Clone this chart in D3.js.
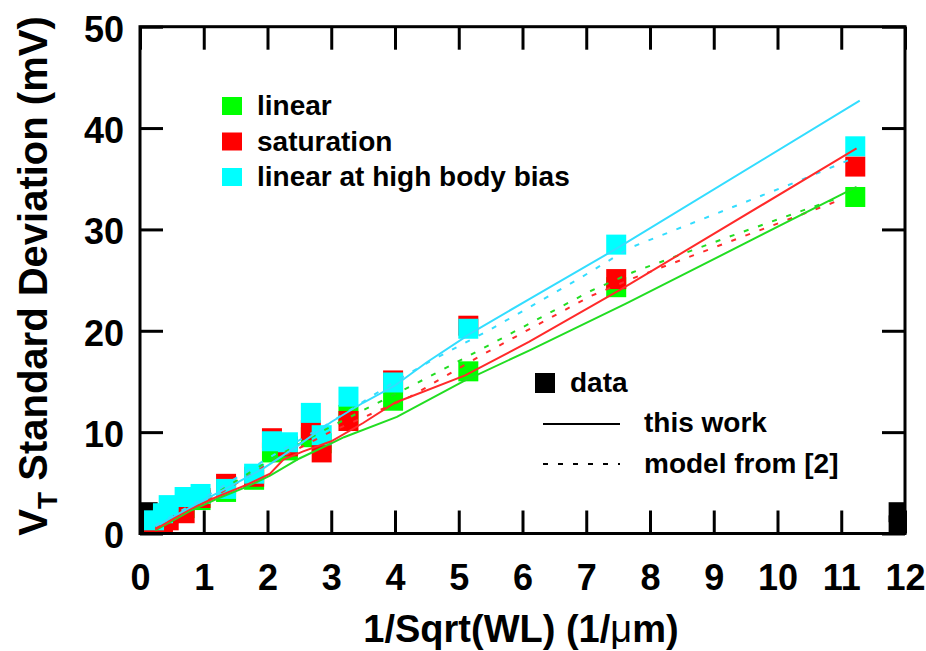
<!DOCTYPE html>
<html lang="en">
<head>
  <meta charset="UTF-8">
  <title>VT standard deviation vs 1/sqrt(WL)</title>
  <script src="https://d3js.org/d3.v7.min.js"></script>
  <style>
    body {
      margin: 0;
      background: white;
      font-family: "Liberation Sans", Arial, sans-serif;
    }
    .axis text {
      font-size: 36px;
      font-weight: bold;
      fill: black;
      font-family: "Liberation Sans", Arial, sans-serif;
    }
    .axis line {
      stroke: black;
      stroke-width: 3;
    }
    .legend text {
      font-size: 28px;
      font-weight: bold;
    }
  </style>
</head>
<body>
  <div id="chart"></div>

  <script>
    // measured devices (x = 1/sqrt(WL))
    const xVals = [0.22, 0.36, 0.45, 0.7, 0.95, 1.35, 1.79, 2.07, 2.32, 2.68, 2.85, 3.27, 3.97, 5.15, 7.47, 11.22];
    const linearVals = [0.8, 1.5, 2.0, 2.5, 3.3, 4.1, 5.3, 8.0, 8.2, 9.5, 8.9, 11.7, 13.1, 16.0, 24.3, 33.2];
    const saturationVals = [-0.3, 0.6, 1.3, 2.0, 3.5, 4.9, 5.6, 9.4, 8.6, 10.2, 8.0, 11.1, 15.1, 20.5, 25.1, 36.2];
    const highBiasVals = [1.3, 2.0, 2.8, 3.6, 3.9, 4.4, 5.9, 9.1, 9.0, 11.9, 9.7, 13.5, 14.9, 20.2, 28.5, 38.2];

    // black marks at the frame edges
    const edgeX = [0.12, 0.12, 11.9, 11.9];
    const edgeY = [2.1, 0.8, 2.1, 0.8];

    // "this work" curves
    const linearWork = [[0.24, 0.3], [0.78, 2.2], [1.2, 3.4], [1.67, 4.6], [2.04, 5.7], [2.5, 7.4], [3.0, 8.9], [3.2, 9.5], [4.03, 11.5], [5.07, 15.0], [6.12, 18.1], [7.63, 22.7], [11.24, 34.2]];
    const saturationWork = [[0.24, 0.4], [0.78, 2.4], [1.2, 3.6], [1.67, 4.8], [2.04, 5.9], [2.25, 7.3], [2.56, 8.1], [3.0, 9.1], [3.5, 10.9], [4.0, 12.9], [5.1, 15.6], [6.1, 18.9], [7.55, 24.1], [11.24, 38.0]];
    const highBiasWork = [[0.24, 0.7], [1.0, 3.3], [1.4, 4.6], [1.93, 6.4], [2.46, 8.6], [3.0, 11.0], [3.5, 12.9], [4.0, 14.6], [4.5, 16.9], [5.2, 19.8], [6.1, 23.1], [7.5, 28.2], [11.29, 42.7]];

    // "model from [2]" curves
    const linearModel = [[0.24, 0.6], [1, 3.2], [2, 7.1], [2.98, 10.5], [4.24, 14.5], [5.33, 18.1], [7.06, 23.9], [7.74, 25.8], [9.25, 29.3], [10.5, 32.1], [11.0, 33.2]];
    const saturationModel = [[0.24, 0.5], [1, 3.0], [2, 6.8], [2.98, 10.0], [4.24, 13.5], [5.33, 17.5], [7.06, 23.4], [7.74, 25.2], [9.25, 28.8], [10.98, 32.9]];
    const highBiasModel = [[0.24, 0.8], [1, 3.5], [2, 7.4], [3, 11.0], [4.0, 15.0], [4.55, 17.0], [5.49, 20.1], [6.85, 25.0], [7.69, 28.2], [10.3, 34.7], [11.03, 36.6], [11.24, 37.2]];

    const xTicks = d3.range(0, 13);
    const yTicks = [0, 10, 20, 30, 40, 50];

    const seriesNames = ["linear", "saturation", "linear at high body bias"];
    const markColors = ["#00ff00", "#ff0000", "#00ffff"];
    const lineColors = ["#22dd22", "#ff2a2a", "#33ddff"];

    const width = 926, height = 651;
    const svg = d3.select("#chart").append("svg")
      .attr("width", width)
      .attr("height", height)
      .style("background", "white");

    const x = d3.scaleLinear().domain([0, 12]).range([140, 905]);
    const y = d3.scaleLinear().domain([0, 50]).range([533.5, 26.7]);

    svg.append("clipPath").attr("id", "plot")
      .append("rect")
      .attr("x", x(0)).attr("y", y(50))
      .attr("width", x(12) - x(0)).attr("height", y(0) - y(50));

    const plot = svg.append("g").attr("clip-path", "url(#plot)");

    // data squares
    const sq = 20;
    edgeX.forEach((v, i) => {
      plot.append("rect")
        .attr("x", x(v) - sq / 2).attr("y", y(edgeY[i]) - sq / 2)
        .attr("width", sq).attr("height", sq)
        .attr("fill", "black");
    });

    const valueSets = [linearVals, saturationVals, highBiasVals];
    valueSets.forEach((vals, s) => {
      plot.selectAll(null).data(xVals).join("rect")
        .attr("x", d => x(d) - sq / 2)
        .attr("y", (d, i) => y(vals[i]) - sq / 2)
        .attr("width", sq).attr("height", sq)
        .attr("fill", markColors[s]);
    });

    const line = d3.line().x(d => x(d[0])).y(d => y(d[1]));

    [linearModel, saturationModel, highBiasModel].forEach((pts, s) => {
      plot.append("path")
        .attr("d", line(pts))
        .attr("fill", "none")
        .attr("stroke", lineColors[s])
        .attr("stroke-width", 2)
        .attr("stroke-dasharray", "5,10");
    });
    [linearWork, saturationWork, highBiasWork].forEach((pts, s) => {
      plot.append("path")
        .attr("d", line(pts))
        .attr("fill", "none")
        .attr("stroke", lineColors[s])
        .attr("stroke-width", 2);
    });

    // axes with inward ticks
    svg.append("g").attr("class", "axis")
      .attr("transform", `translate(0,${y(0)})`)
      .call(d3.axisBottom(x).tickValues(xTicks).tickSizeInner(-23).tickSizeOuter(0).tickPadding(31))
      .call(g => g.select(".domain").remove());
    svg.append("g").attr("class", "axis")
      .attr("transform", `translate(0,${y(50)})`)
      .call(d3.axisTop(x).tickValues(xTicks).tickFormat("").tickSizeInner(-23).tickSizeOuter(0))
      .call(g => g.select(".domain").remove());
    svg.append("g").attr("class", "axis")
      .attr("transform", `translate(${x(0)},0)`)
      .call(d3.axisLeft(y).tickValues(yTicks).tickSizeInner(-23).tickSizeOuter(0).tickPadding(16))
      .call(g => g.select(".domain").remove())
      .call(g => g.selectAll("text").attr("dy", "0.4em"));
    svg.append("g").attr("class", "axis")
      .attr("transform", `translate(${x(12)},0)`)
      .call(d3.axisRight(y).tickValues(yTicks).tickFormat("").tickSizeInner(-23).tickSizeOuter(0))
      .call(g => g.select(".domain").remove());

    // frame
    svg.append("rect")
      .attr("x", x(0)).attr("y", y(50))
      .attr("width", x(12) - x(0)).attr("height", y(0) - y(50))
      .attr("fill", "none")
      .attr("stroke", "black")
      .attr("stroke-width", 3);

    // axis titles
    const xt = svg.append("text")
      .attr("x", 521).attr("y", 642)
      .attr("text-anchor", "middle")
      .style("font-size", "38px").style("font-weight", "bold");
    xt.append("tspan").text("1/Sqrt(WL) (1/");
    xt.append("tspan").style("font-weight", "normal").text("μ");
    xt.append("tspan").text("m)");

    const yt = svg.append("text")
      .attr("transform", "translate(47,276) rotate(-90)")
      .attr("text-anchor", "middle")
      .style("font-size", "40px").style("font-weight", "bold");
    yt.append("tspan").text("V");
    yt.append("tspan").attr("dy", 10).style("font-size", "28px").text("T");
    yt.append("tspan").attr("dy", -10).text(" Standard Deviation (mV)");

    // series legend
    const leg = svg.append("g").attr("class", "legend");
    seriesNames.forEach((name, i) => {
      const by = 115 + i * 35.5;
      leg.append("rect")
        .attr("x", 222).attr("y", by - 18)
        .attr("width", 20).attr("height", 18)
        .attr("fill", markColors[i]);
      leg.append("text").attr("x", 257).attr("y", by).text(name);
    });

    // style legend
    leg.append("rect")
      .attr("x", 535).attr("y", 373)
      .attr("width", 20).attr("height", 20)
      .attr("fill", "black");
    leg.append("text").attr("x", 570).attr("y", 392).text("data");
    leg.append("line")
      .attr("x1", 543).attr("x2", 620).attr("y1", 424).attr("y2", 424)
      .attr("stroke", "black").attr("stroke-width", 2);
    leg.append("text").attr("x", 644).attr("y", 432).text("this work");
    leg.append("line")
      .attr("x1", 543).attr("x2", 620).attr("y1", 464).attr("y2", 464)
      .attr("stroke", "black").attr("stroke-width", 2)
      .attr("stroke-dasharray", "5,10");
    leg.append("text").attr("x", 644).attr("y", 473).text("model from [2]");
  </script>
</body>
</html>
